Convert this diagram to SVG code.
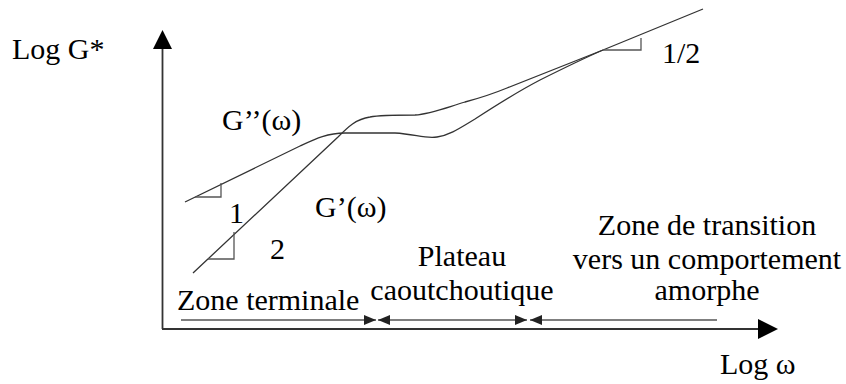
<svg xmlns="http://www.w3.org/2000/svg" width="846" height="384" viewBox="0 0 846 384">
<style>
text{font-family:"Liberation Serif","Times New Roman",serif;font-size:30px;fill:#000}
.mid{text-anchor:middle}
.curve{fill:none;stroke:#333;stroke-width:1.3}
.tri{fill:none;stroke:#555;stroke-width:1.3}
.axis{fill:none;stroke:#333;stroke-width:1.8}
.zone{fill:none;stroke:#555;stroke-width:1.5}
</style>
<defs>
<marker id="ah" markerWidth="12" markerHeight="10" refX="12" refY="5" orient="auto-start-reverse" markerUnits="userSpaceOnUse">
<path d="M0,0 L12,5 L0,10 Z" fill="#222"/>
</marker>
</defs>
<rect width="846" height="384" fill="#fff"/>
<g id="axes">
<line class="axis" x1="162.5" y1="329" x2="162.5" y2="47"/>
<polygon points="162.5,30 153,49 172,49" fill="#000"/>
<line class="axis" x1="162" y1="329" x2="760" y2="329"/>
<polygon points="778,329 758,319 758,339" fill="#000"/>
<text x="12" y="59">Log G*</text>
<text x="720" y="374">Log ω</text>
</g>
<g id="connectors">
<path id="Gpp" class="curve" d="M185,202 L300,146 C315,139 327,133 345,133 L395,133 C415,134 425,139 437,137 C450,135 460,128 475,119 C495,106 515,93 540,80 C560,70 580,60 603,50"/>
<path id="Gp" class="curve" d="M193,273 L338,137 C348,127 356,119 370,117 C380,115 395,115 415,115 C430,114 445,108 465,102 C480,98 490,95 507,88 L603,50 L703,9"/>
<path class="tri" d="M195,197 H221 V183"/>
<path class="tri" d="M208,259 H234 V232"/>
<path class="tri" d="M603,50 H641 V38"/>
<line class="zone" x1="181" y1="320" x2="376" y2="320" marker-end="url(#ah)"/>
<line class="zone" x1="378" y1="320" x2="527" y2="320" marker-start="url(#ah)" marker-end="url(#ah)"/>
<line class="zone" x1="530" y1="320" x2="717" y2="320" marker-start="url(#ah)"/>
</g>
<g id="labels">
<text x="222" y="130">G’’(ω)</text>
<text x="315" y="217">G’(ω)</text>
<text x="229" y="223">1</text>
<text x="270" y="259">2</text>
<text x="662" y="63">1/2</text>
<text x="177" y="310">Zone terminale</text>
<text class="mid" x="462" y="266">Plateau</text>
<text class="mid" x="462" y="300">caoutchoutique</text>
<text class="mid" x="707" y="235">Zone de transition</text>
<text class="mid" x="707" y="269">vers un comportement</text>
<text class="mid" x="707" y="300">amorphe</text>
</g>
</svg>
